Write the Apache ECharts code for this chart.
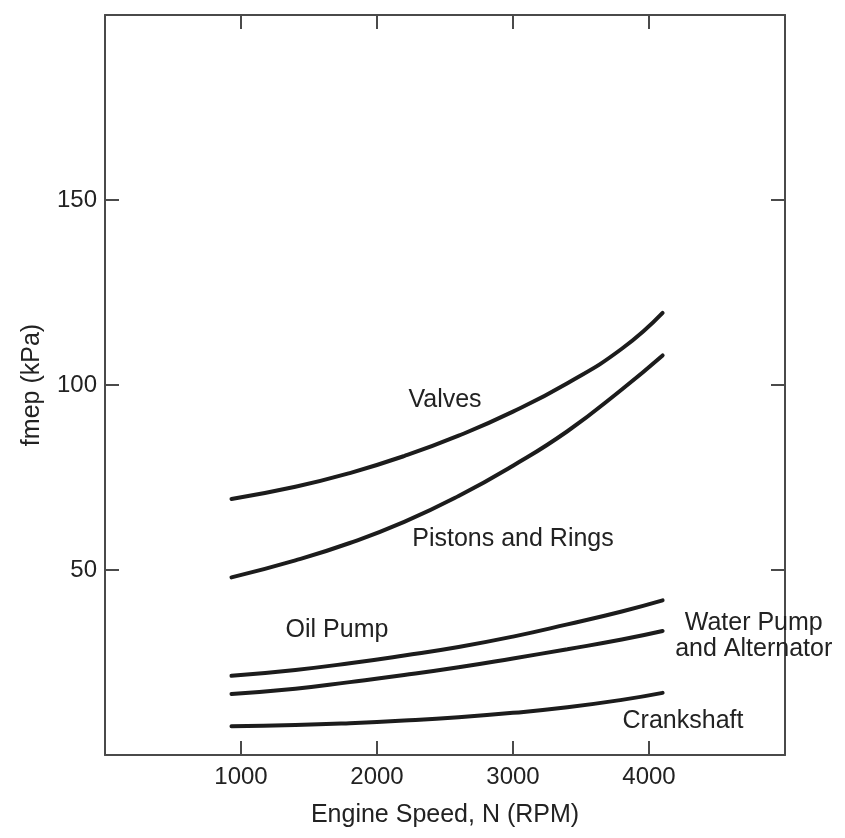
<!DOCTYPE html>
<html>
<head>
<meta charset="utf-8">
<script src="https://cdn.jsdelivr.net/npm/echarts@6/dist/echarts.min.js"></script>
<style>
html, body { margin: 0; background: #fff; }
#chart { width: 845px; height: 838px; }
</style>
</head>
<body>
<div id="chart"></div>
<script>
// engine speed (RPM) where the curves were read
const rpm = [930, 1400, 1800, 2200, 2600, 3000, 3400, 3800, 4100];

// fmep (kPa) per component
const valves = [69.2, 72.5, 76.2, 80.8, 86.3, 92.8, 100.5, 109.8, 119.5];
const pistons = [48, 52.6, 57.3, 63, 70, 78.2, 87.5, 98.8, 108];
const oilPump = [21.4, 23, 24.8, 26.9, 29.2, 32, 35.3, 38.8, 41.8];
const waterPump = [16.5, 17.9, 19.7, 21.6, 23.7, 26.1, 28.6, 31.2, 33.5];
const crankshaft = [7.8, 8.1, 8.6, 9.3, 10.2, 11.4, 12.9, 14.9, 16.8];

const xTicks = [1000, 2000, 3000, 4000];
const yTicks = [50, 100, 150];

// curve names, placed in data coordinates [rpm, kPa]
const curveLabels = [
    { name: 'Valves', at: [2500, 96] },
    { name: 'Pistons and Rings', at: [3000, 58.4] },
    { name: 'Oil Pump', at: [1706, 33.8] },
    { name: 'Water Pump\nand Alternator', at: [4770, 32.2] },
    { name: 'Crankshaft', at: [4250, 9.2] }
];

const font = '"Liberation Sans", Arial, sans-serif';
const textColor = '#222';
const frameColor = '#4a4a4a';

function pairs(ys) {
    return rpm.map(function (x, i) { return [x, ys[i]]; });
}

function curve(ys) {
    return {
        type: 'line',
        data: pairs(ys),
        smooth: 0.5,
        showSymbol: false,
        lineStyle: { color: '#1c1c1c', width: 4, cap: 'round' },
        silent: true
    };
}

function frameAxis(pos, isX) {
    return {
        type: 'value',
        position: pos,
        min: 0,
        max: isX ? 5000 : 200,
        axisLine: { show: true, onZero: false, lineStyle: { color: frameColor, width: 2 } },
        axisTick: {
            show: true, inside: true, length: 14,
            customValues: isX ? xTicks : yTicks,
            lineStyle: { color: frameColor, width: 2 }
        },
        axisLabel: { show: false },
        splitLine: { show: false }
    };
}

let xBottom = frameAxis('bottom', true);
xBottom.axisLabel = {
    show: true, customValues: xTicks, margin: 10,
    formatter: function (v) { return String(v); },
    fontFamily: font, fontSize: 24, color: textColor
};
xBottom.name = 'Engine Speed, N (RPM)';
xBottom.nameLocation = 'middle';
xBottom.nameGap = 48;
xBottom.nameTextStyle = { fontFamily: font, fontSize: 25, color: textColor };

let yLeft = frameAxis('left', false);
yLeft.axisLabel = {
    show: true, customValues: yTicks, margin: 8,
    formatter: function (v) { return String(v); },
    fontFamily: font, fontSize: 24, color: textColor
};
yLeft.name = 'fmep (kPa)';
yLeft.nameLocation = 'middle';
yLeft.nameGap = 60;
yLeft.nameTextStyle = { fontFamily: font, fontSize: 25, color: textColor };

let option = {
    backgroundColor: '#fff',
    animation: false,
    grid: { left: 105, top: 15, width: 680, height: 740 },
    xAxis: [xBottom, frameAxis('top', true)],
    yAxis: [yLeft, frameAxis('right', false)],
    series: [
        curve(valves),
        curve(pistons),
        curve(oilPump),
        curve(waterPump),
        curve(crankshaft),
        {
            type: 'scatter',
            symbolSize: 0,
            silent: true,
            itemStyle: { opacity: 1 },
            data: curveLabels.map(function (c) { return { name: c.name, value: c.at }; }),
            label: {
                show: true,
                position: 'inside',
                formatter: '{b}',
                fontFamily: font,
                fontSize: 25,
                lineHeight: 26,
                color: textColor,
                opacity: 1
            }
        }
    ]
};

let chart = echarts.init(document.getElementById('chart'));
chart.setOption(option);
</script>
</body>
</html>
